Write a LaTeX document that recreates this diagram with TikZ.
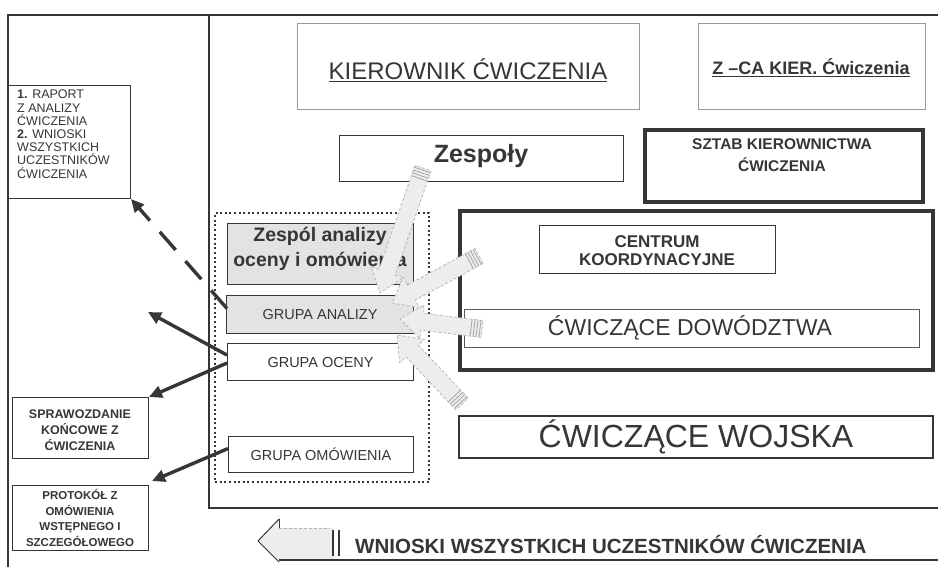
\documentclass[tikz,border=0pt]{standalone}
\usepackage{fontspec}
\setmainfont{Liberation Sans}
\usetikzlibrary{calc,arrows.meta}
\definecolor{ink}{HTML}{363636}
\definecolor{lightink}{HTML}{9A9A9A}
\newcommand\fsz[2]{\fontsize{#1}{#2}\selectfont}
\newcommand\blkarrow[2]{%
  \coordinate (bt) at (#1);
  \coordinate (bh) at (#2);
  \coordinate (bn) at ($(bh)!22pt!(bt)$);
  \filldraw[blkstyle] ($(bt)!8.5pt!90:(bh)$) -- ($(bn)!8.5pt!90:(bh)$) -- ($(bn)!17pt!90:(bh)$) -- (bh) -- ($(bn)!17pt!-90:(bh)$) -- ($(bn)!8.5pt!-90:(bh)$) -- ($(bt)!8.5pt!-90:(bh)$) -- cycle;
  \foreach \d in {2,5,8,11}{
    \draw[hatchstyle] ($($(bt)!\d pt!(bh)$)!8.5pt!90:(bh)$) -- ($($(bt)!\d pt!(bh)$)!8.5pt!-90:(bh)$);
  }
}
\tikzset{
  frame/.style={draw=ink,line width=2.4pt},
  boxthin/.style={draw=ink,line width=1.1pt,inner sep=0pt,anchor=north west},
  boxlight/.style={draw=lightink,line width=1pt,inner sep=0pt,anchor=north west},
  boxthick/.style={draw=ink,line width=3.8pt,inner sep=0pt,anchor=north west},
  txt/.style={text=ink,inner sep=0pt,align=center},
  grayfill/.style={fill=gray!22},
  blkstyle/.style={fill=gray!14,draw=gray!60,line width=0.7pt,densely dashed},
  hatchstyle/.style={draw=gray!70,line width=0.8pt},
  darrow/.style={draw=ink,line width=3.4pt,-{Triangle[length=13pt,width=12pt]}},
}
\begin{document}
\begin{tikzpicture}[x=1pt,y=-1pt]
\useasboundingbox[fill=white] (0,0) rectangle (938,567);
% outer frame lines
\draw[frame,line width=2pt] (7,15) -- (938,15);
\draw[frame,line width=2pt] (8,15) -- (8,567);
\draw[frame,line width=2.8pt] (209,15) -- (209,508) -- (938,508);
% top boxes
\node[boxlight,minimum width=342pt,minimum height=86pt] (kier) at (297,23) {};
\node[txt,font={\fsz{24}{28}}] (kiert) at (468,70) {\underline{KIEROWNIK ĆWICZENIA}};
\node[boxlight,minimum width=227pt,minimum height=86pt] (zca) at (698,23) {};
\node[txt,font={\fsz{18}{22}\bfseries}] (zcat) at (811,68) {\underline{Z –CA KIER. Ćwiczenia}};
% Zespoly
\node[boxthin,minimum width=284pt,minimum height=46pt] (zesp) at (339,135) {};
\node[txt,font={\fsz{25}{28}\bfseries}] (zespt) at (481,156) {Zespoły};
% Sztab
\node[boxthick,minimum width=278pt,minimum height=72pt] (sztab) at (643,128) {};
\node[txt,font={\fsz{15.5}{22}\bfseries}] (sztabt) at (782,155) {SZTAB KIEROWNICTWA\\ ĆWICZENIA};
% big box
\node[draw=ink,line width=3.6pt,inner sep=0pt,anchor=north west,minimum width=473pt,minimum height=159pt] (big) at (458,209) {};
\node[boxthin,line width=1pt,minimum width=236pt,minimum height=48pt] (centrum) at (539,225) {};
\node[txt,font={\fsz{17}{18}\bfseries}] (centrumt) at (657,251) {CENTRUM\\ KOORDYNACYJNE};
\node[boxthin,draw=gray!70!black,line width=0.9pt,minimum width=455pt,minimum height=38pt] (dowodz) at (464,309) {};
\node[txt,font={\fsz{23}{26}}] (dowodzt) at (690,328) {ĆWICZĄCE DOWÓDZTWA};
% wojska
\node[boxthin,line width=2.4pt,minimum width=474pt,minimum height=42pt] (wojska) at (458,415) {};
\node[txt,font={\fsz{32}{36}}] (wojskat) at (696,437) {ĆWICZĄCE WOJSKA};
% dotted group box
\node[draw=ink,line width=2.2pt,dash pattern=on 2pt off 2.6pt,inner sep=0pt,anchor=north west,minimum width=214pt,minimum height=269pt] (dotbox) at (214,212) {};
\node[boxthin,grayfill,minimum width=186pt,minimum height=61pt] (zespol) at (227,223) {};
\node[txt,anchor=north,font={\fsz{19.5}{25}\bfseries}] (zespolt) at (320,227) {Zespól analizy\\ oceny i omówienia};
\node[boxthin,grayfill,minimum width=187pt,minimum height=38pt] (ganal) at (226,295) {};
\node[txt,font={\fsz{14.5}{16}}] (ganalt) at (ganal.center) {GRUPA ANALIZY};
\node[boxthin,fill=white,minimum width=186pt,minimum height=37pt] (gocen) at (227,343) {};
\node[txt,font={\fsz{14.5}{16}}] (gocent) at (gocen.center) {GRUPA OCENY};
\node[boxthin,fill=white,minimum width=185pt,minimum height=36pt] (gomow) at (228,436) {};
\node[txt,font={\fsz{14.5}{16}}] (gomowt) at (gomow.center) {GRUPA OMÓWIENIA};
% left boxes
\node[boxthin,line width=1pt,minimum width=122pt,minimum height=113pt] (raport) at (8,85) {};
\node[txt,anchor=north west,align=left,font={\fsz{12.5}{13.2}}] (raportt) at (17,90) {\textbf{1.} RAPORT\\Z ANALIZY\\ĆWICZENIA\\\textbf{2.} WNIOSKI\\WSZYSTKICH\\UCZESTNIKÓW\\ĆWICZENIA};
\node[boxthin,line width=1pt,minimum width=136pt,minimum height=61pt] (spraw) at (12,397) {};
\node[txt,font={\fsz{12.5}{16}\bfseries}] (sprawt) at (80,430) {SPRAWOZDANIE\\KOŃCOWE Z\\ĆWICZENIA};
\node[boxthin,line width=1pt,minimum width=136pt,minimum height=65pt] (proto) at (12,485) {};
\node[txt,font={\fsz{11.5}{15.5}\bfseries}] (protot) at (80,518) {PROTOKÓŁ Z\\OMÓWIENIA\\WSTĘPNEGO I\\SZCZEGÓŁOWEGO};
% left connectors
\coordinate (free) at (148,312);
\draw[darrow,dash pattern=on 24pt off 15pt] ($(ganal.west)+(1,-6)$) -- (raport.south east);
\draw[darrow] ($(gocen.west)+(0,-7)$) -- (free);
\draw[darrow] ($(gocen.west)+(0,1)$) -- (spraw.north east);
\draw[darrow] ($(gomow.west)+(0,-6)$) -- ($(proto.north east)+(3,-4)$);
% block arrows towards GRUPA ANALIZY
\coordinate (t1) at (423,168); \coordinate (h1) at (380,293);
\coordinate (t2) at (479,256); \coordinate (h2) at (392,303);
\coordinate (t3) at (482,329); \coordinate (h3) at (400,319);
\coordinate (t4) at (462,404); \coordinate (h4) at (397,335);
\blkarrow{t1}{h1}
\blkarrow{t2}{h2}
\blkarrow{t3}{h3}
\blkarrow{t4}{h4}
% bottom arrow row
\coordinate (btip) at (258,541);
\fill[gray!14] (btip) -- (279,519) -- (279,528) -- (334,528) -- (334,560) -- (279,560) -- (279,562) -- cycle;
\draw[draw=ink,line width=1pt] (279,519) -- (btip) -- (279,562);
\draw[draw=ink,line width=1pt] (279,519) -- (279,528);
\draw[draw=gray!60,line width=0.8pt,densely dashed] (279,528) -- (330,528);
\draw[draw=ink,line width=1.6pt] (279,560) -- (938,560);
\draw[draw=ink,line width=2pt] (333,530) -- (333,556) (339,530) -- (339,556);
\node[txt,anchor=west,font={\fsz{20.5}{24}\bfseries}] (wnioski) at (355,545) {WNIOSKI WSZYSTKICH UCZESTNIKÓW ĆWICZENIA};
\end{tikzpicture}
\end{document}
